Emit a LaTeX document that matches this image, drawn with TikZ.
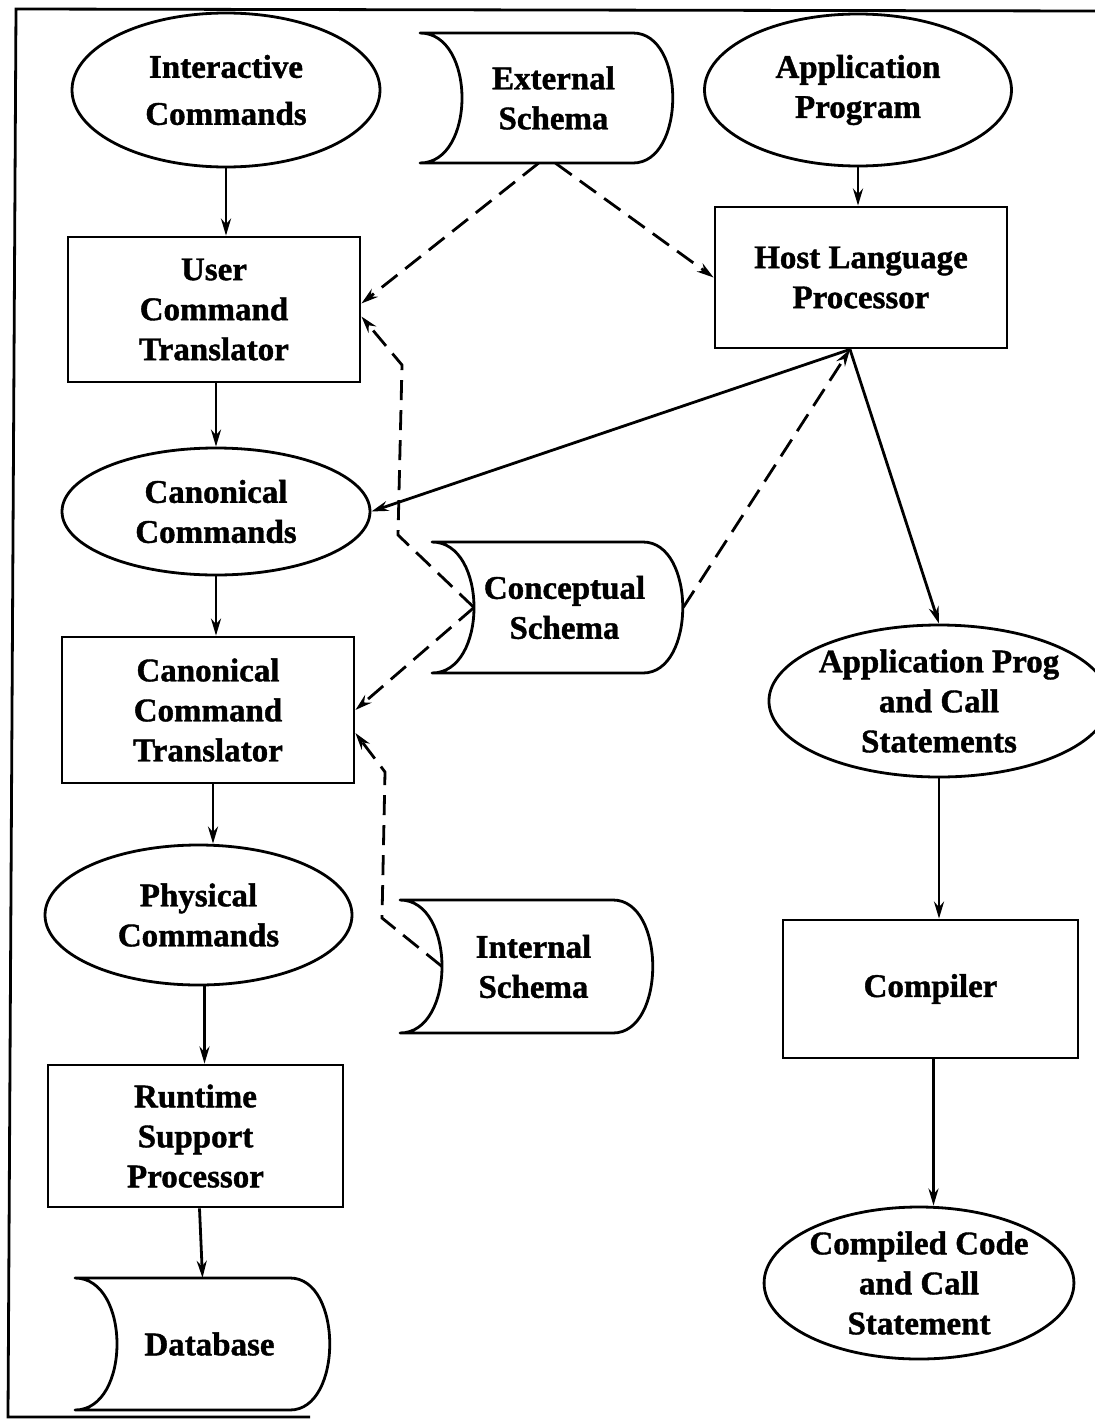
\documentclass[tikz,border=0pt]{standalone}
\usepackage{fontspec}
\setmainfont{Liberation Serif}[BoldFeatures={FakeBold=1.2}]
\usetikzlibrary{shapes.geometric,arrows.meta,calc}
\tikzset{
  ln/.style={line width=2.8pt},
  txt/.style={font=\bfseries\fontsize{33}{40}\selectfont},
  ell/.style={ellipse, draw, ln, inner sep=0pt, align=center, txt},
  box/.style={rectangle, draw, ln, inner sep=0pt, align=center, txt},
  drumlbl/.style={rectangle, inner sep=0pt, align=center, txt},
  arr/.style={ln, -{Stealth[length=17pt,width=10pt]}},
  darr/.style={arr, dash pattern=on 20pt off 10pt},
}
\newcommand\drumnode[6]{%
  \draw[ln, line join=round] (#2,#3) -- ({#4-40},#3)
    .. controls ({#4+13},#3) and ({#4+13},#5) .. ({#4-40},#5)
    -- (#2,#5) .. controls ({#2+56},#5) and ({#2+56},#3) .. cycle;
  \node[rectangle, inner sep=0pt, minimum width={#4-#2}, minimum height={#5-#3},
        label={[drumlbl, xshift=7pt]center:{#6}}] (#1) at ({(#2+#4)/2},{(#3+#5)/2}) {};
  \coordinate (#1-in) at ({#2+42},{(#3+#5)/2});
}
\begin{document}
\begin{tikzpicture}[x=1pt,y=-1pt]
\useasboundingbox (0,0) rectangle (1095,1419);
% frame
\draw[ln] (1095,11) -- (16,9) -- (8,1417) -- (310,1417);

% nodes
\node[ell, minimum width=308, minimum height=154] (ic) at (226,90) {Interactive\\[7pt]Commands};
\drumnode{ext}{420}{33}{673}{163}{External\\Schema}
\node[ell, minimum width=307, minimum height=152] (apg) at (858,90) {Application\\Program};
\node[box, minimum width=292, minimum height=145] (uct) at (214,309.5) {User\\Command\\Translator};
\node[box, minimum width=292, minimum height=141] (host) at (861,277.5) {Host Language\\Processor};
\node[ell, minimum width=308, minimum height=127] (canc) at (216,511.5) {Canonical\\Commands};
\drumnode{conc}{432}{542}{683}{673}{Conceptual\\Schema}
\node[box, minimum width=292, minimum height=146] (cct) at (208,710) {Canonical\\Command\\Translator};
\node[ell, minimum width=308, minimum height=152] (apc) at (939,701) {Application Prog\\and Call\\Statements};
\node[ell, minimum width=307, minimum height=140] (phys) at (198.5,915) {Physical\\Commands};
\drumnode{int}{400}{900}{653}{1033}{Internal\\Schema}
\node[box, minimum width=295, minimum height=138] (comp) at (930.5,989) {Compiler};
\node[box, minimum width=295, minimum height=142] (rsp) at (195.5,1136) {Runtime\\Support\\Processor};
\drumnode{db}{75}{1278}{330}{1410}{Database}
\node[ell, minimum width=308, minimum height=152] (ccd) at (919,1283) {Compiled Code\\and Call\\Statement};

% helper coordinates
\coordinate (hb) at ([xshift=-11pt]host.south);
\coordinate (b1) at (398,535);
\coordinate (b2) at (402,365);
\coordinate (b3) at (382,918);
\coordinate (b4) at (385,772);

% solid connectors
\draw[arr] (ic.south) -- (ic.south |- uct.north);
\draw[arr] (apg.south) -- (apg.south |- host.north);
\draw[arr] (canc.north |- uct.south) -- (canc.north);
\draw[arr] (canc.south) -- (canc.south |- cct.north);
\draw[arr] ([xshift=5pt]cct.south) -- ([xshift=5pt]cct.south |- phys.north);
\draw[arr] ([xshift=6pt]phys.south) -- ([xshift=6pt]phys.south |- rsp.north);
\draw[arr] ([xshift=4pt]rsp.south) -- (db.north);
\draw[arr] (hb) -- (canc.east);
\draw[arr] (hb) -- (apc.north);
\draw[arr] (apc.south) -- (apc.south |- comp.north);
\draw[arr] ([xshift=3pt]comp.south) -- ([xshift=3pt]comp.south |- ccd.north);

% dashed connectors
\draw[darr] ([xshift=-8pt]ext.south) -- ([yshift=6pt]uct.east);
\draw[darr] ([xshift=9pt]ext.south) -- (host.west);
\draw[darr] (conc.east) -- (hb);
\draw[darr] (conc-in) -- (b1) -- (b2) -- ([yshift=-7pt]uct.east);
\draw[darr] (conc-in) -- (cct.east);
\draw[darr] (int-in) -- (b3) -- (b4) -- ([yshift=-23pt]cct.east);
\end{tikzpicture}
\end{document}
